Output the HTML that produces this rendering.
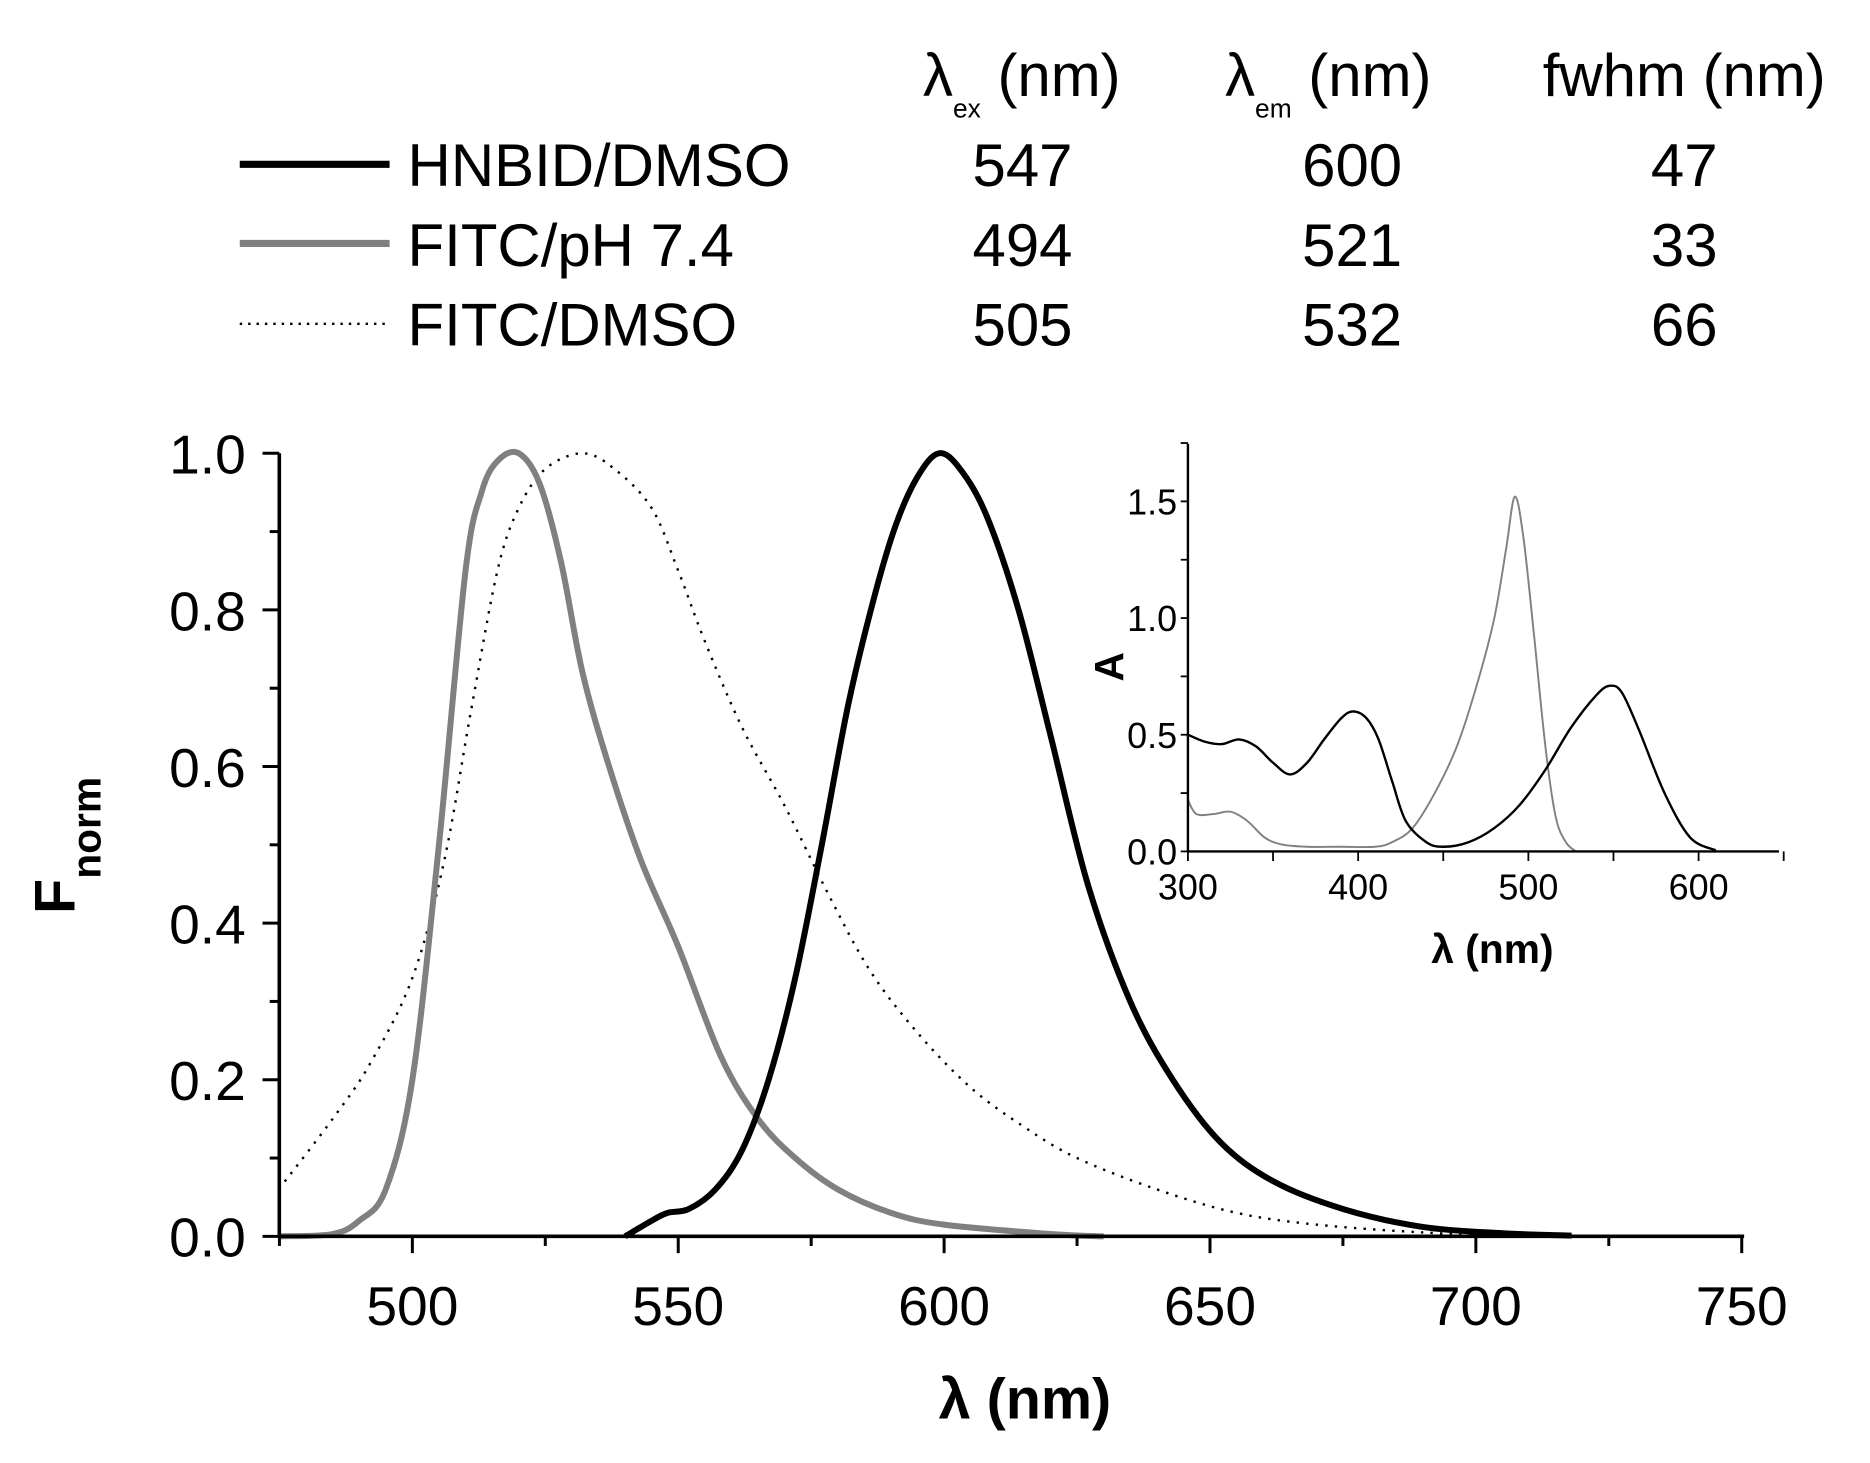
<!DOCTYPE html>
<html><head><meta charset="utf-8"><style>
html,body{margin:0;padding:0;background:#fff}
svg{display:block}
text{font-family:"Liberation Sans",sans-serif;fill:#000}
</style></head><body>
<svg id="s" width="1870" height="1463" viewBox="0 0 1560 1220" preserveAspectRatio="none" xmlns="http://www.w3.org/2000/svg">
<rect width="1560" height="1220" fill="#fff"/>
<g font-size="50">
<text x="770" y="80">λ<tspan font-size="22" dy="18">ex</tspan><tspan dy="-18"> (nm)</tspan></text>
<text x="1022" y="80">λ<tspan font-size="22" dy="18">em</tspan><tspan dy="-18"> (nm)</tspan></text>
<text x="1287" y="80">fwhm (nm)</text>
<line x1="200" y1="137" x2="325" y2="137" stroke="#000" stroke-width="6"/>
<line x1="200" y1="203" x2="325" y2="203" stroke="#808080" stroke-width="6"/>
<line x1="200" y1="270" x2="325" y2="270" stroke="#000" stroke-width="2" stroke-dasharray="2,5"/>
<text x="340" y="155">HNBID/DMSO</text>
<text x="340" y="222">FITC/pH 7.4</text>
<text x="340" y="288">FITC/DMSO</text>
<g text-anchor="middle">
<text x="853" y="155">547</text><text x="1128" y="155">600</text><text x="1405" y="155">47</text>
<text x="853" y="222">494</text><text x="1128" y="222">521</text><text x="1405" y="222">33</text>
<text x="853" y="288">505</text><text x="1128" y="288">532</text><text x="1405" y="288">66</text>
</g></g>
<g id="main"></g>
<g id="inset"></g>
</svg>
<script>
var NS="http://www.w3.org/2000/svg";
function el(p,t,a,txt){var e=document.createElementNS(NS,t);for(var k in a)e.setAttribute(k,a[k]);if(txt!=null)e.textContent=txt;p.appendChild(e);return e;}
function path(pts,X,Y){var P=pts.map(function(p){return [X(p[0]),Y(p[1])]});var d="M"+P[0][0]+","+P[0][1];
for(var i=0;i<P.length-1;i++){var p0=P[Math.max(0,i-1)],p1=P[i],p2=P[i+1],p3=P[Math.min(P.length-1,i+2)];
d+=" C"+(p1[0]+(p2[0]-p0[0])/6)+","+(p1[1]+(p2[1]-p0[1])/6)+" "+(p2[0]-(p3[0]-p1[0])/6)+","+(p2[1]-(p3[1]-p1[1])/6)+" "+p2[0]+","+p2[1];}return d;}
var m=document.getElementById("main");
var X=function(v){return 344+(v-500)*4.436},Y=function(v){return 1031-v*653};
var fp=[[475,0],[485,0.003],[490,0.02],[495,0.06],[500,0.2],[505,0.5],[510,0.85],[513,0.95],[516,0.99],[520,1.0],[524,0.96],[528,0.86],[532,0.72],[537,0.6],[543,0.48],[550,0.37],[558,0.23],[565,0.15],[572,0.1],[580,0.06],[590,0.03],[600,0.015],[620,0.003],[630,0]];
var hb=[[540,0],[545,0.02],[548,0.03],[552,0.035],[557,0.06],[562,0.11],[567,0.2],[572,0.33],[577,0.5],[582,0.68],[587,0.82],[591,0.91],[595,0.97],[599,1.0],[603,0.98],[608,0.92],[614,0.8],[620,0.64],[627,0.45],[635,0.3],[643,0.2],[652,0.12],[662,0.07],[675,0.035],[690,0.012],[705,0.004],[718,0.001]];
var fd=[[476,0.07],[485,0.15],[492,0.22],[500,0.33],[506,0.48],[511,0.67],[516,0.85],[520,0.93],[525,0.98],[532,1.0],[538,0.98],[545,0.93],[550,0.85],[555,0.76],[562,0.65],[570,0.55],[578,0.44],[586,0.34],[595,0.26],[605,0.19],[615,0.14],[625,0.1],[640,0.06],[655,0.03],[670,0.015],[690,0.005],[710,0]];
el(m,"path",{d:path(fd,X,Y),fill:"none",stroke:"#000","stroke-width":2,"stroke-dasharray":"2,6"});
el(m,"path",{d:path(fp,X,Y),fill:"none",stroke:"#808080","stroke-width":5});
el(m,"path",{d:path(hb,X,Y),fill:"none",stroke:"#000","stroke-width":5});
el(m,"line",{x1:233,y1:378,x2:233,y2:1031,stroke:"#000","stroke-width":3});
el(m,"line",{x1:233,y1:1031,x2:1455,y2:1031,stroke:"#000","stroke-width":3});
for(var v=475;v<=750;v+=25){var maj=v%50==0;el(m,"line",{x1:X(v),y1:1031,x2:X(v),y2:1031+(maj?14:8),stroke:"#000","stroke-width":2.5});
if(maj)el(m,"text",{x:X(v),y:1105,"text-anchor":"middle","font-size":46},v);}
for(var i=0;i<=10;i++){var yv=i/10,maj=i%2==0;el(m,"line",{x1:233,y1:Y(yv),x2:233-(maj?14:8),y2:Y(yv),stroke:"#000","stroke-width":2.5});
if(maj)el(m,"text",{x:205,y:Y(yv)+17,"text-anchor":"end","font-size":46},yv.toFixed(1));}
el(m,"text",{x:855,y:1183,"text-anchor":"middle","font-size":48,"font-weight":"bold"},"λ (nm)");
var t=el(m,"text",{transform:"translate(62,705) rotate(-90)","text-anchor":"middle","font-size":48,"font-weight":"bold"});
t.innerHTML='F<tspan font-size="34" dy="22">norm</tspan>';
var n=document.getElementById("inset");
var x2=function(v){return 991+(v-300)*1.42},y2=function(v){return 710-v*194.6};
var ib=[[300,0.5],[310,0.47],[320,0.46],[330,0.48],[340,0.45],[350,0.38],[360,0.33],[370,0.38],[380,0.48],[390,0.57],[397,0.6],[405,0.57],[412,0.48],[420,0.3],[428,0.13],[440,0.04],[450,0.02],[465,0.04],[480,0.1],[495,0.2],[510,0.35],[525,0.53],[540,0.67],[548,0.71],[555,0.68],[565,0.52],[580,0.25],[595,0.06],[610,0.005]];
var ig=[[300,0.22],[305,0.16],[315,0.16],[325,0.17],[335,0.13],[345,0.06],[355,0.03],[370,0.02],[390,0.02],[410,0.02],[420,0.04],[432,0.1],[445,0.25],[458,0.45],[470,0.72],[480,1.0],[487,1.3],[492,1.52],[497,1.35],[503,0.95],[510,0.45],[516,0.15],[522,0.04],[528,0]];
el(n,"path",{d:path(ig,x2,y2),fill:"none",stroke:"#808080","stroke-width":1.6});
el(n,"path",{d:path(ib,x2,y2),fill:"none",stroke:"#000","stroke-width":2});
el(n,"line",{x1:991,y1:370,x2:991,y2:710,stroke:"#000","stroke-width":2});
el(n,"line",{x1:991,y1:710,x2:1484,y2:710,stroke:"#000","stroke-width":2});
for(var v=300;v<=650;v+=50){var maj=v%100==0;el(n,"line",{x1:x2(v),y1:710,x2:x2(v),y2:718,stroke:"#000","stroke-width":1.5});
if(maj)el(n,"text",{x:x2(v),y:750,"text-anchor":"middle","font-size":30,fill:"#333"},v);}
for(var i=0;i<=7;i++){var yv=i*0.25,maj=i%2==0;el(n,"line",{x1:991,y1:y2(yv),x2:985,y2:y2(yv),stroke:"#000","stroke-width":1.5});
if(maj&&i<7)el(n,"text",{x:982,y:y2(yv)+11,"text-anchor":"end","font-size":30,fill:"#333"},yv.toFixed(1));}
el(n,"text",{x:1245,y:803,"text-anchor":"middle","font-size":34,"font-weight":"bold"},"λ (nm)");
el(n,"text",{transform:"translate(937,556) rotate(-90)","text-anchor":"middle","font-size":34,"font-weight":"bold"},"A");
</script>
</body></html>
